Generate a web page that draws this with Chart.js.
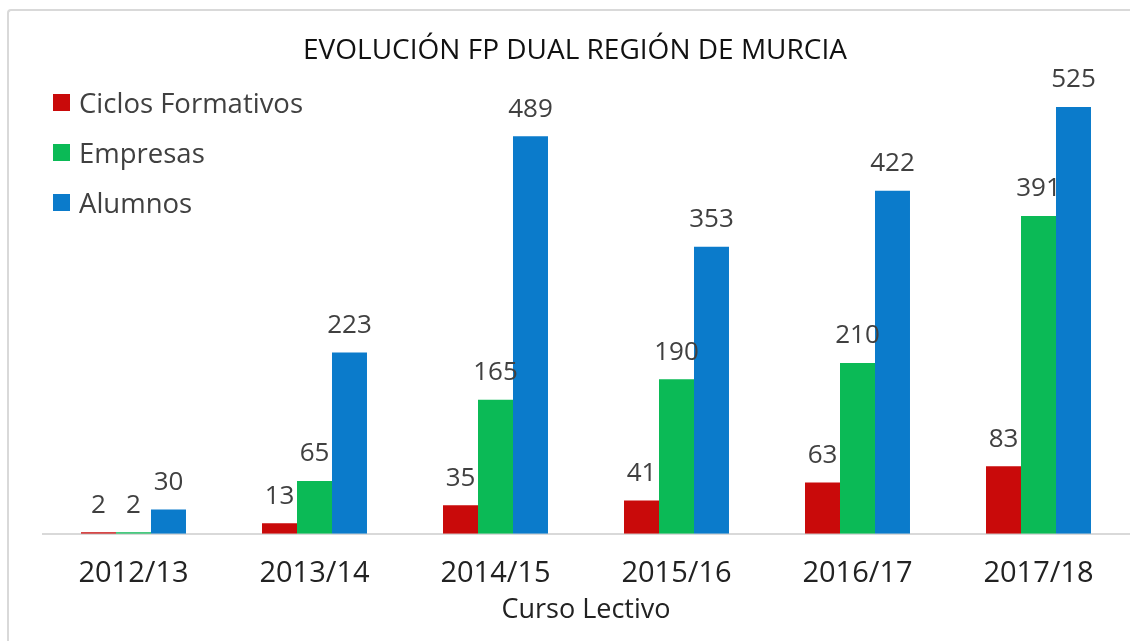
<!DOCTYPE html>
<html>
<head>
<meta charset="utf-8">
<script src="https://cdn.jsdelivr.net/npm/chart.js@4.4.1/dist/chart.umd.min.js"></script>
<style>
  html, body { margin: 0; padding: 0; background: #fff; overflow: hidden; }
  #wrap { position: relative; width: 1130px; height: 641px; font-family: "Open Sans", sans-serif; }
  #frame { position: absolute; left: 7px; top: 9px; width: 1200px; height: 700px;
           border-left: 2px solid #d9d9d9; border-top: 2px solid #d9d9d9; border-radius: 4px; }
  #title { position: absolute; left: 0; width: 1150px; top: 29px; text-align: center;
           font-size: 28px; color: #111; }
  #legend { position: absolute; left: 53px; top: 77px; }
  .item { height: 50px; display: flex; align-items: center; font-size: 27.5px; color: #404040; }
  .sw { width: 17px; height: 17px; margin-right: 9px; }
  canvas { position: absolute; left: 0; top: 0; }
</style>
</head>
<body>
<div id="wrap">
  <div id="frame"></div>
  <canvas id="chart" width="1130" height="641"></canvas>
  <div id="title">EVOLUCIÓN FP DUAL REGIÓN DE MURCIA</div>
  <div id="legend"></div>
</div>
<script>
const cursos = ['2012/13', '2013/14', '2014/15', '2015/16', '2016/17', '2017/18'];
const ciclos = [2, 13, 35, 41, 63, 83];
const empresas = [2, 65, 165, 190, 210, 391];
const alumnos = [30, 223, 489, 353, 422, 525];
const series = ['Ciclos Formativos', 'Empresas', 'Alumnos'];
const colores = ['#c90a0a', '#0bba56', '#0b7bcb'];

document.getElementById('legend').innerHTML = series.map((s, i) => `
  <div class="item"><span class="sw" style="background:${colores[i]}"></span>${s}</div>
`).join('');

// etiquetas de valor encima de cada barra
const valueLabels = {
  id: 'valueLabels',
  afterDatasetsDraw(chart) {
    const ctx = chart.ctx;
    ctx.save();
    ctx.font = '26px "Open Sans"';
    ctx.fillStyle = '#404040';
    ctx.textAlign = 'center';
    ctx.textBaseline = 'bottom';
    chart.data.datasets.forEach((ds, i) => {
      chart.getDatasetMeta(i).data.forEach((bar, j) => {
        ctx.fillText(ds.data[j], bar.x, bar.y - 14);
      });
    });
    ctx.restore();
  }
};

new Chart(document.getElementById('chart'), {
  type: 'bar',
  data: {
    labels: cursos,
    datasets: [
      { label: series[0], data: ciclos, backgroundColor: colores[0] },
      { label: series[1], data: empresas, backgroundColor: colores[1] },
      { label: series[2], data: alumnos, backgroundColor: colores[2] }
    ]
  },
  options: {
    responsive: false,
    animation: false,
    layout: { padding: { left: 43, right: 1, top: 46, bottom: 14 } },
    datasets: { bar: { categoryPercentage: 0.58, barPercentage: 1 } },
    scales: {
      y: { display: false, min: 0, max: 600 },
      x: {
        grid: { display: false },
        border: { color: '#d9d9d9', width: 2 },
        ticks: { color: '#222', font: { family: 'Open Sans', size: 29 }, padding: 15 },
        title: { display: true, text: 'Curso Lectivo', color: '#222',
                 font: { family: 'Open Sans', size: 27 }, padding: { top: -12, bottom: 0 } }
      }
    },
    plugins: { legend: { display: false }, tooltip: { enabled: false } }
  },
  plugins: [valueLabels]
});
</script>
</body>
</html>
